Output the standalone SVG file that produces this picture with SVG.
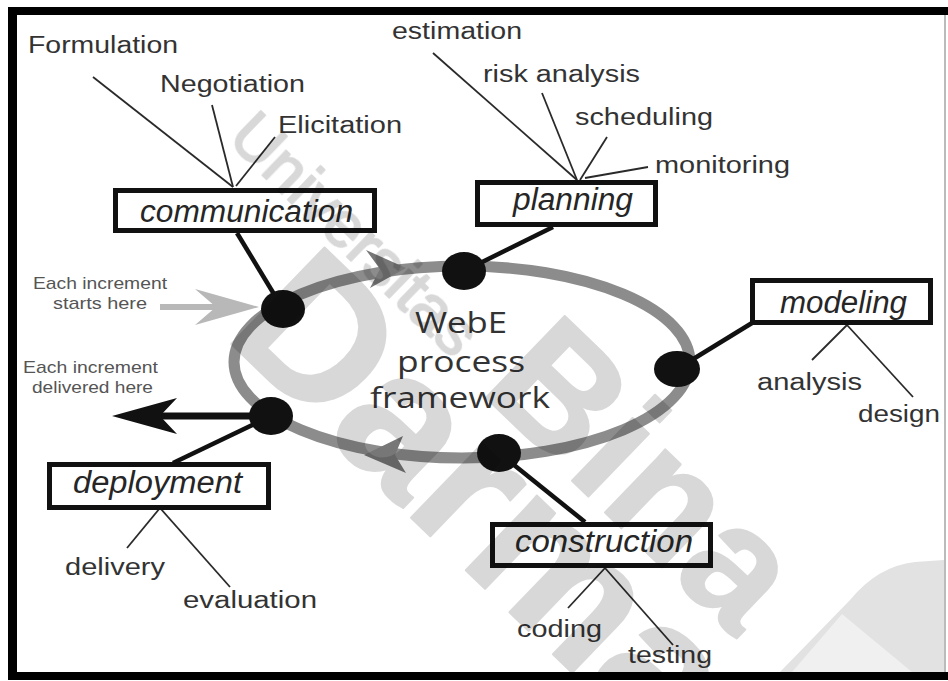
<svg xmlns="http://www.w3.org/2000/svg" width="948" height="681" viewBox="0 0 948 681">
<style>
.lbl{font-family:"Liberation Sans",Arial,sans-serif;font-size:23px;fill:#333}
.box{fill:#fff;stroke:#111;stroke-width:5}
.bt{font-family:"Liberation Sans",Arial,sans-serif;font-size:31px;font-style:italic;fill:#262626}
.sub{stroke:#2a2a2a;stroke-width:1.8;fill:none}
.con{stroke:#111;stroke-width:4.5;fill:none}
.dot{fill:#111}
.small{font-family:"Liberation Sans",Arial,sans-serif;font-size:17px;fill:#555}
.ctr{font-family:"Open Sans","Liberation Sans",sans-serif;font-size:29px;fill:#333}
.wm{font-family:"Liberation Sans",Arial,sans-serif;font-weight:bold;fill:#d8d8d8;stroke:#d8d8d8;stroke-width:2;stroke-linejoin:round}
</style>
<defs>
<clipPath id="inner"><rect x="17" y="15" width="927" height="657"/></clipPath>
</defs>
<rect x="0" y="0" width="948" height="681" fill="#fff"/>
<g id="frame" stroke="#000" fill="none">
<line x1="8" y1="11" x2="948" y2="11" stroke-width="8"/>
<line x1="12.5" y1="7" x2="12.5" y2="680" stroke-width="9"/>
<line x1="8" y1="676" x2="948" y2="676" stroke-width="8"/>
<line x1="945" y1="15" x2="945" y2="672" stroke="#bbb" stroke-width="2"/>
</g>
<g id="cycle">
<ellipse cx="462" cy="362" rx="228" ry="96" fill="none" stroke="#8c8c8c" stroke-width="11"/>
<path d="M366,250 L406,268 L370,288 L380,269 Z" fill="#777"/>
<path d="M364,455 L403,436 L395,455 L406,473 Z" fill="#777"/>
<text class="ctr" x="415" y="333" textLength="92" lengthAdjust="spacingAndGlyphs">WebE</text>
<text class="ctr" x="397" y="372" textLength="128" lengthAdjust="spacingAndGlyphs">process</text>
<text class="ctr" x="370" y="408" textLength="180" lengthAdjust="spacingAndGlyphs">framework</text>
</g>
<g id="connectors">
<line class="con" x1="237" y1="233" x2="283" y2="309"/>
<line class="con" x1="553" y1="227" x2="464" y2="271"/>
<line class="con" x1="752" y1="323" x2="677" y2="369"/>
<line class="con" x1="271" y1="416" x2="173" y2="463"/>
<line class="con" x1="499" y1="453" x2="585" y2="522"/>
<line class="sub" x1="93" y1="77" x2="233" y2="187"/>
<line class="sub" x1="212" y1="105" x2="233" y2="187"/>
<line class="sub" x1="275" y1="137" x2="236" y2="186"/>
<line class="sub" x1="433" y1="53" x2="577" y2="180"/>
<line class="sub" x1="542" y1="93" x2="577" y2="180"/>
<line class="sub" x1="607" y1="137" x2="580" y2="180"/>
<line class="sub" x1="648" y1="167" x2="585" y2="178"/>
<line class="sub" x1="847" y1="325" x2="812" y2="360"/>
<line class="sub" x1="847" y1="325" x2="913" y2="397"/>
<line class="sub" x1="160" y1="508" x2="127" y2="548"/>
<line class="sub" x1="160" y1="508" x2="230" y2="587"/>
<line class="sub" x1="605" y1="568" x2="568" y2="608"/>
<line class="sub" x1="605" y1="568" x2="673" y2="645"/>
<line x1="160" y1="307" x2="232" y2="307" stroke="#b8b8b8" stroke-width="6"/>
<path d="M259,307 L195,289 L216,307 L195,325 Z" fill="#b8b8b8"/>
<line x1="253" y1="416" x2="150" y2="416" stroke="#111" stroke-width="7"/>
<path d="M112,416 L177,398 L160,416 L177,434 Z" fill="#111"/>
</g>
<g id="dots">
<ellipse class="dot" cx="283" cy="309" rx="22" ry="19"/>
<ellipse class="dot" cx="464" cy="271" rx="22" ry="19"/>
<ellipse class="dot" cx="677" cy="369" rx="23" ry="18"/>
<ellipse class="dot" cx="271" cy="416" rx="22" ry="19"/>
<ellipse class="dot" cx="499" cy="453" rx="22" ry="19"/>
</g>
<g id="communication">
<rect class="box" x="115.5" y="190.5" width="259" height="40"/>
<text class="bt" x="140" y="222" textLength="213" lengthAdjust="spacingAndGlyphs">communication</text>
<text class="lbl" x="28" y="53" textLength="150" lengthAdjust="spacingAndGlyphs">Formulation</text>
<text class="lbl" x="160" y="92" textLength="145" lengthAdjust="spacingAndGlyphs">Negotiation</text>
<text class="lbl" x="278" y="133" textLength="124" lengthAdjust="spacingAndGlyphs">Elicitation</text>
</g>
<g id="planning">
<rect class="box" x="477.5" y="182.5" width="178" height="42"/>
<text class="bt" x="513" y="210" textLength="120" lengthAdjust="spacingAndGlyphs">planning</text>
<text class="lbl" x="392" y="39" textLength="130" lengthAdjust="spacingAndGlyphs">estimation</text>
<text class="lbl" x="483" y="82" textLength="157" lengthAdjust="spacingAndGlyphs">risk analysis</text>
<text class="lbl" x="575" y="125" textLength="138" lengthAdjust="spacingAndGlyphs">scheduling</text>
<text class="lbl" x="655" y="173" textLength="135" lengthAdjust="spacingAndGlyphs">monitoring</text>
</g>
<g id="modeling">
<rect class="box" x="752.5" y="280.5" width="178" height="42"/>
<text class="bt" x="780" y="313" textLength="127" lengthAdjust="spacingAndGlyphs">modeling</text>
<text class="lbl" x="757" y="390" textLength="105" lengthAdjust="spacingAndGlyphs">analysis</text>
<text class="lbl" x="858" y="422" textLength="82" lengthAdjust="spacingAndGlyphs">design</text>
</g>
<g id="deployment">
<rect class="box" x="49.5" y="464.5" width="219" height="43"/>
<text class="bt" x="73" y="493" textLength="169" lengthAdjust="spacingAndGlyphs">deployment</text>
<text class="lbl" x="65" y="575" textLength="100" lengthAdjust="spacingAndGlyphs">delivery</text>
<text class="lbl" x="183" y="608" textLength="134" lengthAdjust="spacingAndGlyphs">evaluation</text>
</g>
<g id="construction">
<rect class="box" x="492.5" y="524.5" width="218" height="41"/>
<text class="bt" x="515" y="552" textLength="178" lengthAdjust="spacingAndGlyphs">construction</text>
<text class="lbl" x="517" y="637" textLength="85" lengthAdjust="spacingAndGlyphs">coding</text>
<text class="lbl" x="628" y="663" textLength="84" lengthAdjust="spacingAndGlyphs">testing</text>
</g>
<g id="increment-labels">
<text class="small" x="33" y="289" textLength="134" lengthAdjust="spacingAndGlyphs">Each increment</text>
<text class="small" x="53" y="309" textLength="94" lengthAdjust="spacingAndGlyphs">starts here</text>
<text class="small" x="23" y="373" textLength="135" lengthAdjust="spacingAndGlyphs">Each increment</text>
<text class="small" x="32" y="393" textLength="121" lengthAdjust="spacingAndGlyphs">delivered here</text>
</g>
<g id="watermark" style="mix-blend-mode:multiply" clip-path="url(#inner)">
<text class="wm" font-size="64" style="font-weight:normal" stroke-width="3" transform="translate(226,140) rotate(44)">Universitas</text>
<text class="wm" font-size="165" transform="translate(478,390) rotate(44)">Bina</text>
<text class="wm" font-size="195" transform="translate(222,335) rotate(44)">Darma</text>
<path d="M780,672 L850,600 Q878,566 915,562 L944,560 L944,672 Z" fill="#e2e2e2"/>
<path d="M792,672 L842,614 L912,672 Z" fill="#f0f0f0"/>
</g>
</svg>
